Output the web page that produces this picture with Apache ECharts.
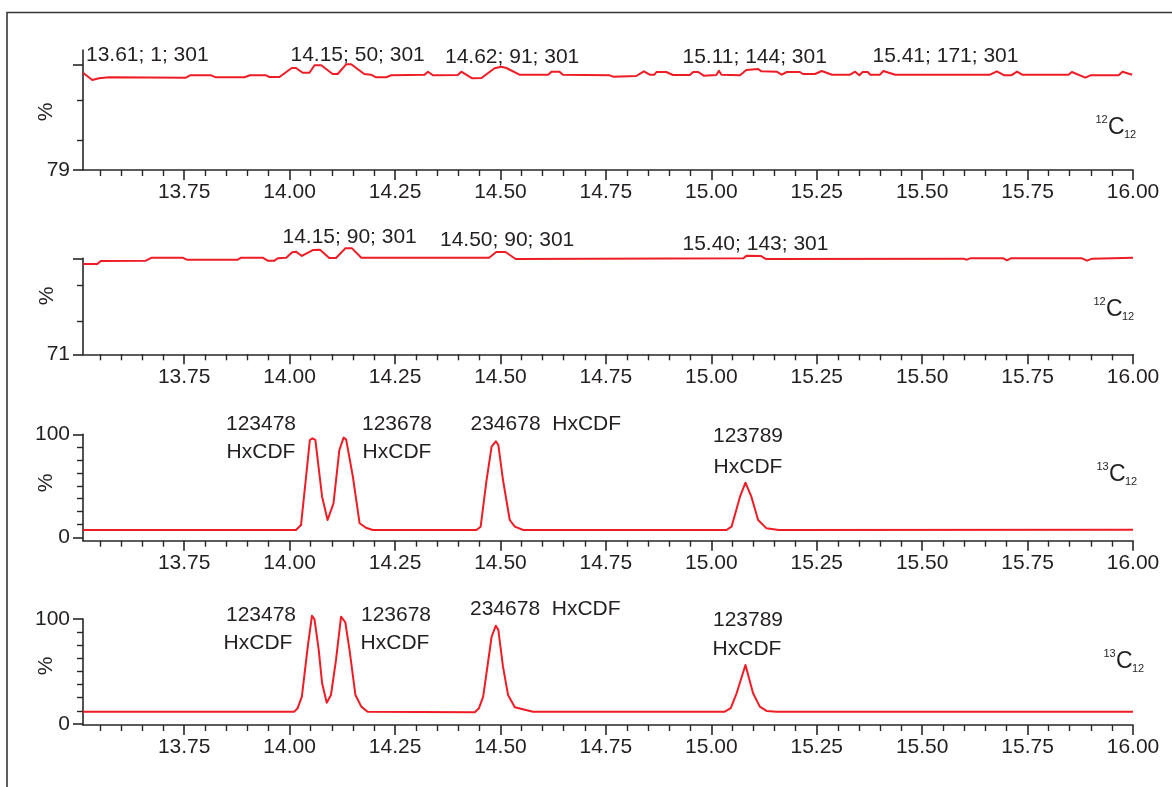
<!DOCTYPE html>
<html>
<head>
<meta charset="utf-8">
<script src="https://cdn.jsdelivr.net/npm/echarts@6/dist/echarts.min.js"></script>
<style>
  html, body { margin: 0; padding: 0; background: #ffffff; }
  #chart { width: 1172px; height: 787px; }
</style>
</head>
<body>
<div id="chart"></div>
<script>
// Retention time (min) and relative intensity (%) for each trace
const rt1 = [13.51, 13.532, 13.548, 13.572, 13.754, 13.764, 13.814, 13.825, 13.893, 13.906, 13.944, 13.952, 13.976, 14.005, 14.015, 14.031, 14.047, 14.059, 14.075, 14.102, 14.114, 14.134, 14.146, 14.177, 14.193, 14.205, 14.229, 14.241, 14.320, 14.328, 14.340, 14.399, 14.407, 14.433, 14.455, 14.486, 14.502, 14.514, 14.545, 14.613, 14.621, 14.640, 14.648, 14.759, 14.767, 14.822, 14.840, 14.854, 14.865, 14.870, 14.893, 14.909, 14.949, 14.957, 14.969, 14.982, 15.012, 15.018, 15.024, 15.068, 15.083, 15.111, 15.119, 15.155, 15.167, 15.179, 15.210, 15.217, 15.246, 15.262, 15.286, 15.329, 15.341, 15.351, 15.359, 15.371, 15.377, 15.400, 15.408, 15.436, 15.661, 15.677, 15.695, 15.711, 15.725, 15.737, 15.847, 15.855, 15.887, 15.899, 15.966, 15.975, 15.998];
const pct1 = [98.46, 97.0, 97.34, 97.54, 97.46, 97.94, 97.94, 97.54, 97.54, 97.94, 97.94, 97.6, 97.6, 99.4, 99.4, 98.46, 98.46, 99.94, 99.94, 98.2, 98.2, 100.14, 100.14, 98.2, 98.06, 97.54, 97.54, 97.94, 98.06, 98.66, 97.94, 98.0, 98.66, 97.34, 97.4, 99.34, 99.66, 99.4, 98.06, 98.06, 98.66, 98.66, 98.06, 97.94, 97.66, 97.8, 98.74, 98.06, 98.06, 98.6, 98.6, 98.0, 98.0, 98.6, 98.6, 97.86, 98.0, 98.86, 98.06, 97.94, 99.0, 99.2, 98.74, 98.66, 98.06, 98.6, 98.6, 98.2, 98.2, 98.8, 98.06, 98.06, 98.66, 97.94, 98.6, 98.6, 98.06, 98.06, 98.8, 98.06, 98.06, 98.74, 97.94, 97.94, 98.66, 98.06, 98.06, 98.6, 97.46, 97.94, 97.94, 98.66, 98.06];

const rt2 = [13.51, 13.544, 13.552, 13.659, 13.673, 13.746, 13.756, 13.877, 13.885, 13.936, 13.948, 13.964, 13.972, 13.992, 14.006, 14.015, 14.029, 14.055, 14.072, 14.094, 14.110, 14.132, 14.148, 14.170, 14.473, 14.490, 14.512, 14.536, 15.076, 15.084, 15.117, 15.129, 15.598, 15.606, 15.614, 15.693, 15.701, 15.710, 15.879, 15.891, 15.903, 16.0];
const pct2 = [98.28, 98.28, 99.19, 99.28, 100.18, 100.18, 99.58, 99.58, 100.18, 100.18, 99.28, 99.28, 100.0, 100.18, 101.8, 102.0, 100.7, 102.5, 102.6, 100.1, 100.1, 103.0, 103.0, 100.18, 100.18, 101.9, 101.9, 99.8, 100.0, 100.8, 100.7, 99.8, 99.9, 99.58, 100.0, 100.0, 99.4, 100.0, 100.0, 99.28, 99.9, 100.18];

const rt3 = [13.51, 14.015, 14.027, 14.039, 14.048, 14.054, 14.061, 14.077, 14.090, 14.104, 14.118, 14.128, 14.134, 14.150, 14.166, 14.181, 14.197, 14.443, 14.453, 14.467, 14.479, 14.489, 14.495, 14.506, 14.522, 14.534, 14.554, 15.036, 15.048, 15.068, 15.081, 15.095, 15.111, 15.131, 15.16, 16.0];
const pct3 = [7.1, 7.1, 11.9, 58.8, 94.5, 96.1, 94.5, 39.4, 16.8, 33, 84.8, 96.8, 95.1, 58.8, 13.6, 9.3, 7.1, 7.1, 10.3, 55.6, 88, 93.2, 89.6, 55.6, 16.8, 10.3, 7.1, 7.1, 10.3, 39.4, 53, 39.4, 16.8, 8.7, 7.1, 7.3];

const rt4 = [13.51, 14.011, 14.019, 14.029, 14.043, 14.053, 14.059, 14.069, 14.077, 14.088, 14.098, 14.110, 14.122, 14.132, 14.142, 14.156, 14.170, 14.185, 14.439, 14.449, 14.459, 14.479, 14.489, 14.495, 14.506, 14.518, 14.534, 14.577, 15.032, 15.046, 15.060, 15.081, 15.099, 15.115, 15.131, 15.155, 16.0];
const pct4 = [11.7, 11.7, 15, 26, 73.6, 103.1, 99.7, 70.5, 38.8, 20.3, 27.6, 61, 102.2, 96.9, 70.5, 27.6, 16.5, 11.7, 11.1, 15, 26, 83.1, 93.6, 89.5, 54.6, 27.6, 15.9, 11.7, 11.7, 15, 29.2, 56.2, 29.2, 16.5, 12.4, 11.7, 11.7];

// Time axis: labelled ticks and the small ticks between them
const xTickValues = [13.75, 14.0, 14.25, 14.5, 14.75, 15.0, 15.25, 15.5, 15.75, 16.0];
const xMinorStart = 13.55, xMinorEnd = 15.95, xMinorStep = 0.05;

// Intensity axes per trace
const yLabelValues = [[79], [71], [0, 100], [0, 100]];
const yMajorTicks  = [[79, 100], [71, 100], [0, 100], [0, 100]];
const yMinorTicks  = [[85, 93], [81, 92], [12.5, 25, 37.5, 50, 62.5, 75, 87.5], [12.5, 25, 37.5, 50, 62.5, 75, 87.5]];

// Peak annotations
const traceNotes1 = ['13.61; 1; 301', '14.15; 50; 301', '14.62; 91; 301', '15.11; 144; 301', '15.41; 171; 301'];
const traceNotes2 = ['14.15; 90; 301', '14.50; 90; 301', '15.40; 143; 301'];
const congeners = ['123478', '123678', '234678', 'HxCDF', '123789'];
const isotopes = ['12', '12', '13', '13'];

const FONT = 'Liberation Sans, Arial, sans-serif';
const INK = '#231f20';
const RED = '#ee1d25';
const FS = 21;

const xMinorValues = [];
for (let v = xMinorStart; v <= xMinorEnd + 1e-9; v += xMinorStep) {
  const r = Math.round(v * 100) / 100;
  if (Math.abs(r * 4 - Math.round(r * 4)) > 1e-6) xMinorValues.push(r);
}

const traces = [
  { rt: rt1, pct: pct1 },
  { rt: rt2, pct: pct2 },
  { rt: rt3, pct: pct3 },
  { rt: rt4, pct: pct4 }
];

// Panel frames
const panels = [
  { top: 50,    height: 120,   ymin: 79,   ymax: 103 },
  { top: 258.3, height: 96,    ymin: 71,   ymax: 100 },
  { top: 434.3, height: 106.4, ymin: -3.3, ymax: 100 },
  { top: 619,   height: 106,   ymin: -1,   ymax: 100 }
];

const grid = [], xAxis = [], yAxis = [], series = [];
const axisColor = '#2a2627';

panels.forEach((p, i) => {
  grid.push({ left: 83, right: 39, top: p.top, height: p.height, outerBoundsMode: 'none' });
  // labelled time axis
  xAxis.push({
    type: 'value', gridIndex: i, min: 13.51, max: 16.0,
    axisLine: { show: true, onZero: false, lineStyle: { color: axisColor, width: 1.6 } },
    axisTick: { show: true, length: 10, customValues: xTickValues, lineStyle: { color: axisColor, width: 1.6 } },
    axisLabel: {
      show: true, customValues: xTickValues, margin: 12,
      formatter: v => v.toFixed(2),
      fontFamily: FONT, fontSize: FS, color: INK
    },
    splitLine: { show: false }
  });
  // small ticks
  xAxis.push({
    type: 'value', gridIndex: i, min: 13.51, max: 16.0, position: 'bottom',
    axisLine: { show: false, onZero: false },
    axisTick: { show: true, length: 6, customValues: xMinorValues, lineStyle: { color: axisColor, width: 1.4 } },
    axisLabel: { show: false },
    splitLine: { show: false }
  });
  yAxis.push({
    type: 'value', gridIndex: i, min: p.ymin, max: p.ymax,
    axisLine: { show: true, onZero: false, lineStyle: { color: axisColor, width: 1.6 } },
    axisTick: { show: true, length: 10, customValues: yMajorTicks[i], lineStyle: { color: axisColor, width: 1.6 } },
    axisLabel: {
      show: true, customValues: yLabelValues[i], margin: 13,
      fontFamily: FONT, fontSize: FS, color: INK
    },
    splitLine: { show: false }
  });
  yAxis.push({
    type: 'value', gridIndex: i, min: p.ymin, max: p.ymax, position: 'left',
    axisLine: { show: false, onZero: false },
    axisTick: { show: true, length: 6, customValues: yMinorTicks[i], lineStyle: { color: axisColor, width: 1.4 } },
    axisLabel: { show: false },
    splitLine: { show: false }
  });
  series.push({
    type: 'line',
    xAxisIndex: 2 * i, yAxisIndex: 2 * i,
    data: traces[i].rt.map((t, k) => [t, traces[i].pct[k]]),
    showSymbol: false, symbol: 'none', clip: false,
    lineStyle: { color: RED, width: 2, join: 'round' },
    animation: false
  });
});

function txt(text, x, y, opts) {
  return Object.assign({
    type: 'text', x: x, y: y, silent: true,
    style: Object.assign({
      text: text, fill: INK, font: FS + 'px ' + FONT,
      align: 'left', verticalAlign: 'middle'
    }, (opts && opts.style) || {})
  }, opts && opts.rotation !== undefined ? { rotation: opts.rotation } : {});
}

function isoLabel(mass, x, y) {
  return [
    txt(mass, x - 12.5, y - 8.5, { style: { font: '11px ' + FONT } }),
    txt('C', x, y, { style: { font: '23px ' + FONT } }),
    txt('12', x + 16, y + 6.5, { style: { font: '11px ' + FONT } })
  ];
}

const graphic = [
  // outer frame
  { type: 'polyline', silent: true, shape: { points: [[7, 790], [7, 12.5], [1175, 12.5]] },
    style: { stroke: '#3a3637', lineWidth: 1.6, fill: null } },
  // axis names
  txt('%', 46, 112, { rotation: Math.PI / 2, style: { align: 'center' } }),
  txt('%', 47, 296, { rotation: Math.PI / 2, style: { align: 'center' } }),
  txt('%', 46, 483, { rotation: Math.PI / 2, style: { align: 'center' } }),
  txt('%', 46, 666, { rotation: Math.PI / 2, style: { align: 'center' } }),
  // notes on the first two traces
  txt(traceNotes1[0], 86, 55),
  txt(traceNotes1[1], 290.5, 55),
  txt(traceNotes1[2], 445, 57.5),
  txt(traceNotes1[3], 682.5, 57.5),
  txt(traceNotes1[4], 872.5, 56.5),
  txt(traceNotes2[0], 282.5, 237.5),
  txt(traceNotes2[1], 440, 240.5),
  txt(traceNotes2[2], 682.5, 244),
  // congener names, third trace
  txt(congeners[0], 261, 424, { style: { align: 'center' } }),
  txt(congeners[3], 261, 452.5, { style: { align: 'center' } }),
  txt(congeners[1], 397, 424, { style: { align: 'center' } }),
  txt(congeners[3], 397, 452.5, { style: { align: 'center' } }),
  txt(congeners[2] + '  ' + congeners[3], 470.5, 424),
  txt(congeners[4], 748, 436.5, { style: { align: 'center' } }),
  txt(congeners[3], 748, 467, { style: { align: 'center' } }),
  // congener names, fourth trace
  txt(congeners[0], 261, 615, { style: { align: 'center' } }),
  txt(congeners[3], 258, 643.5, { style: { align: 'center' } }),
  txt(congeners[1], 396, 615, { style: { align: 'center' } }),
  txt(congeners[3], 395, 643.5, { style: { align: 'center' } }),
  txt(congeners[2] + '  ' + congeners[3], 470, 609),
  txt(congeners[4], 748, 620.5, { style: { align: 'center' } }),
  txt(congeners[3], 747, 649, { style: { align: 'center' } })
].concat(
  isoLabel(isotopes[0], 1108, 128),
  isoLabel(isotopes[1], 1106, 310),
  isoLabel(isotopes[2], 1109, 475),
  isoLabel(isotopes[3], 1116, 662)
);

const chart = echarts.init(document.getElementById('chart'), null, { renderer: 'canvas' });
chart.setOption({
  backgroundColor: '#ffffff',
  animation: false,
  textStyle: { fontFamily: FONT },
  grid: grid,
  xAxis: xAxis,
  yAxis: yAxis,
  series: series,
  graphic: graphic
});
</script>
</body>
</html>
